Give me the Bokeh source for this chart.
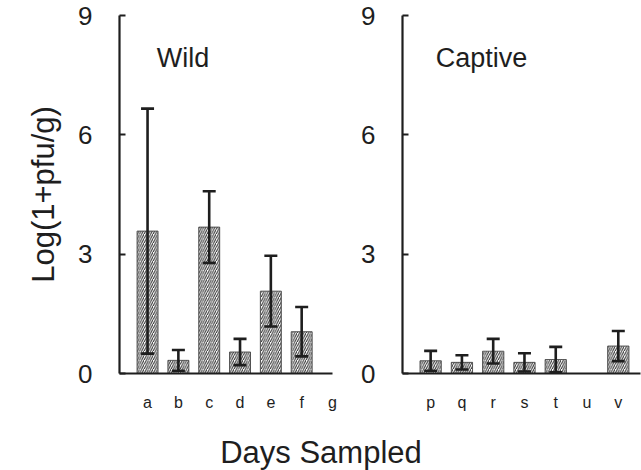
from bokeh.plotting import figure
from bokeh.models import (Range1d, FixedTicker, ColumnDataSource, Whisker, TeeHead, Label)
from bokeh.layouts import row, column
from bokeh.embed import file_html
from bokeh.resources import INLINE

# ---- data ----
wild_days = ["a", "b", "c", "d", "e", "f", "g"]
wild_mean = [3.58, 0.33, 3.68, 0.54, 2.07, 1.05, None]
wild_err = [3.08, 0.26, 0.90, 0.33, 0.89, 0.62, None]

captive_days = ["p", "q", "r", "s", "t", "u", "v"]
captive_mean = [0.32, 0.28, 0.56, 0.28, 0.35, None, 0.69]
captive_err = [0.25, 0.18, 0.31, 0.23, 0.32, None, 0.38]

y_ticks = [0, 3, 6, 9]

FONT = "Liberation Sans"
INK = "#1e1e1e"


def make_panel(days, means, errs, title, width, border_left, border_right,
               x_start, x_end, y_label, title_x):
    p = figure(width=width, height=420, output_backend="svg", toolbar_location=None,
               x_range=Range1d(x_start, x_end), y_range=Range1d(0, 9),
               min_border_left=border_left, min_border_right=border_right,
               min_border_top=15, min_border_bottom=47)
    p.outline_line_color = None
    p.grid.visible = False
    p.background_fill_color = "white"
    p.border_fill_color = "white"

    xs = [i for i, m in enumerate(means) if m is not None]
    ms = [means[i] for i in xs]
    es = [errs[i] for i in xs]
    src = ColumnDataSource(dict(
        x=xs, top=ms,
        upper=[m + e for m, e in zip(ms, es)],
        lower=[m - e for m, e in zip(ms, es)],
    ))
    p.vbar(x="x", top="top", bottom=0, width=0.68, source=src,
           fill_color="white", line_color="#444444", line_width=0.9,
           hatch_pattern="/", hatch_color="#2a2a2a", hatch_scale=4.5, hatch_weight=1.0)
    w = Whisker(source=src, base="x", upper="upper", lower="lower",
                line_color=INK, line_width=2.6, level="overlay",
                upper_head=TeeHead(size=13, line_width=2.6, line_color=INK),
                lower_head=TeeHead(size=13, line_width=2.6, line_color=INK))
    p.add_layout(w)

    # x axis
    xa = p.xaxis[0]
    xa.ticker = FixedTicker(ticks=list(range(len(days))))
    xa.major_label_overrides = {i: d for i, d in enumerate(days)}
    xa.major_tick_in = 0
    xa.major_tick_out = 0
    xa.minor_tick_line_color = None
    xa.axis_line_width = 2.2
    xa.axis_line_color = INK
    xa.major_label_text_font = FONT
    xa.major_label_text_font_size = "16px"
    xa.major_label_text_color = INK
    xa.major_label_standoff = 20

    # y axis
    ya = p.yaxis[0]
    ya.ticker = FixedTicker(ticks=y_ticks)
    ya.major_tick_in = 6
    ya.major_tick_out = 0
    ya.major_tick_line_width = 2
    ya.major_tick_line_color = INK
    ya.minor_tick_line_color = None
    ya.axis_line_width = 2.2
    ya.axis_line_color = INK
    ya.major_label_text_font = FONT
    ya.major_label_text_font_size = "26px"
    ya.major_label_text_color = INK
    ya.major_label_standoff = 27
    if y_label:
        ya.axis_label = y_label
        ya.axis_label_text_font = FONT
        ya.axis_label_text_font_size = "31px"
        ya.axis_label_text_font_style = "normal"
        ya.axis_label_text_color = INK
        ya.axis_label_standoff = 14

    p.add_layout(Label(x=title_x, y=7.94, text=title, text_font=FONT,
                       text_font_size="27px", text_color=INK,
                       text_align="left", text_baseline="alphabetic"))
    return p


p1 = make_panel(wild_days, wild_mean, wild_err, "Wild", 345, 119, 13,
                -0.91, 6.0, "Log(1+pfu/g)", 0.30)
p2 = make_panel(captive_days, captive_mean, captive_err, "Captive", 296, 57, 1,
                -0.9, 6.71, None, 0.16)

p3 = figure(width=641, height=50, output_backend="svg", toolbar_location=None,
            x_range=Range1d(0, 1), y_range=Range1d(0, 1),
            min_border=0, min_border_left=0, min_border_right=0,
            min_border_top=0, min_border_bottom=0)
p3.axis.visible = False
p3.grid.visible = False
p3.outline_line_color = None
p3.add_layout(Label(x=0.5, y=0.36, text="Days Sampled", text_font=FONT,
                    text_font_size="31px", text_color=INK,
                    text_align="center", text_baseline="alphabetic"))

layout = column(row(p1, p2), p3)

with open("out.html", "w") as f:
    f.write(file_html(layout, INLINE))
